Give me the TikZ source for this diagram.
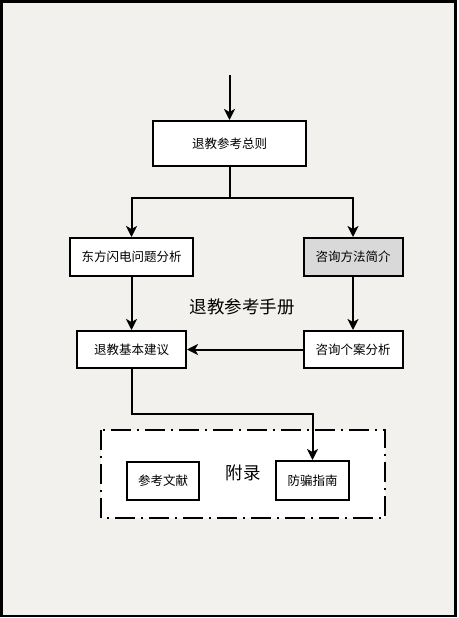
\documentclass[tikz,border=0pt]{standalone}
\usepackage{fontspec}
\newfontfamily\cjk{Noto Sans CJK SC}
\usetikzlibrary{arrows.meta}
\definecolor{bgc}{HTML}{F2F1ED}
\definecolor{grayfill}{HTML}{D9D9D9}
\begin{document}
\begin{tikzpicture}[x=1pt,y=-1pt,
  box/.style={draw=black,line width=2pt,fill=white,inner sep=0pt,font=\cjk\fontsize{12.5}{14}\selectfont},
  conn/.style={draw=black,line width=2pt,-{Stealth[length=11pt,width=11pt,inset=3pt]}},
  plain/.style={draw=black,line width=2pt}]
\useasboundingbox (0,0) rectangle (458,618);
\draw[line width=2.4pt,fill=bgc] (1.5,1.5) rectangle (455.5,616);
\draw[line width=2pt,fill=white,dash pattern=on 20pt off 6pt on 2pt off 6pt] (101,430) rectangle (385,518);
\node[box,minimum width=153pt,minimum height=45pt] (zongze) at (229.5,143.5) {退教参考总则};
\node[box,minimum width=123pt,minimum height=38pt] (dongfang) at (131.5,257) {东方闪电问题分析};
\node[box,minimum width=99pt,minimum height=38pt,fill=grayfill] (fangfa) at (353,257) {咨询方法简介};
\node[box,minimum width=109pt,minimum height=37pt] (jianyi) at (131.5,349.5) {退教基本建议};
\node[box,minimum width=99pt,minimum height=37pt] (gean) at (353,349.5) {咨询个案分析};
\node[box,minimum width=72pt,minimum height=38pt] (wenxian) at (163,481) {参考文献};
\node[box,minimum width=73pt,minimum height=39pt] (fangpian) at (312.5,480.5) {防骗指南};
\node[font=\cjk\fontsize{17.5}{20}\selectfont] (title) at (242,307) {退教参考手册};
\node[font=\cjk\fontsize{17.5}{20}\selectfont] (fulu) at (243,473) {附录};
\coordinate (start) at (229.5,75);
\coordinate (split) at (229.5,198);
\draw[conn] (start) -- (zongze.north);
\draw[plain] (zongze.south) -- (split);
\draw[conn] (split) -| (dongfang.north);
\draw[conn] (split) -| (fangfa.north);
\draw[conn] (dongfang.south) -- (jianyi.north);
\draw[conn] (fangfa.south) -- (gean.north);
\draw[conn] (gean.west) -- (jianyi.east);
\draw[conn] (jianyi.south) |- (312.5,414) -- (fangpian.north);
\end{tikzpicture}
\end{document}
